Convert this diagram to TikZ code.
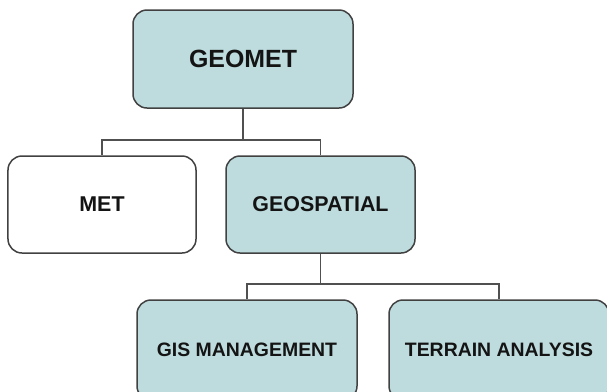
\documentclass[tikz,border=0pt]{standalone}
\usepackage{fontspec}
\setmainfont{Liberation Sans}
\usepackage{tikz}

\definecolor{boxteal}{RGB}{190,220,222}
\definecolor{boxedge}{RGB}{65,65,65}
\definecolor{wiregray}{RGB}{80,80,80}

\begin{document}
\begin{tikzpicture}[x=1bp, y=-1bp,
    unitbox/.style={draw=boxedge, line width=1.5bp, rounded corners=14bp,
        inner sep=0pt, text=black!92, font=\bfseries},
    tealbox/.style={unitbox, fill=boxteal},
    wire/.style={draw=wiregray, line width=1.8bp}]
    \useasboundingbox (0, 0) rectangle (607, 391);
    \clip (0, 0) rectangle (607, 391);
    \node[tealbox, minimum width=220bp, minimum height=98bp, font=\bfseries\fontsize{25}{30}\selectfont] (geomet) at (243, 59) {GEOMET};
    \node[unitbox, fill=white, minimum width=188bp, minimum height=97bp, font=\bfseries\fontsize{21.5}{26}\selectfont] (met) at (102, 204.5) {MET};
    \node[tealbox, minimum width=189bp, minimum height=97bp, font=\bfseries\fontsize{21.5}{26}\selectfont] (geospatial) at (320.5, 204.5) {GEOSPATIAL};
    \node[tealbox, minimum width=220bp, minimum height=100bp, font=\bfseries\fontsize{19.5}{24}\selectfont] (gis) at (247, 350) {GIS MANAGEMENT};
    \node[tealbox, minimum width=220bp, minimum height=100bp, font=\bfseries\fontsize{19.5}{24}\selectfont] (terrain) at (499, 350) {TERRAIN ANALYSIS};
    \coordinate (busA) at (0, 140);
    \coordinate (busB) at (0, 284);
    \draw[wire] (geomet.south) -- (geomet.south |- busA) -| (met.north);
    \draw[wire] (geomet.south |- busA) -| (geospatial.north);
    \draw[wire] (geospatial.south) -- (geospatial.south |- busB) -| (gis.north);
    \draw[wire] (geospatial.south |- busB) -| (terrain.north);
\end{tikzpicture}
\end{document}
